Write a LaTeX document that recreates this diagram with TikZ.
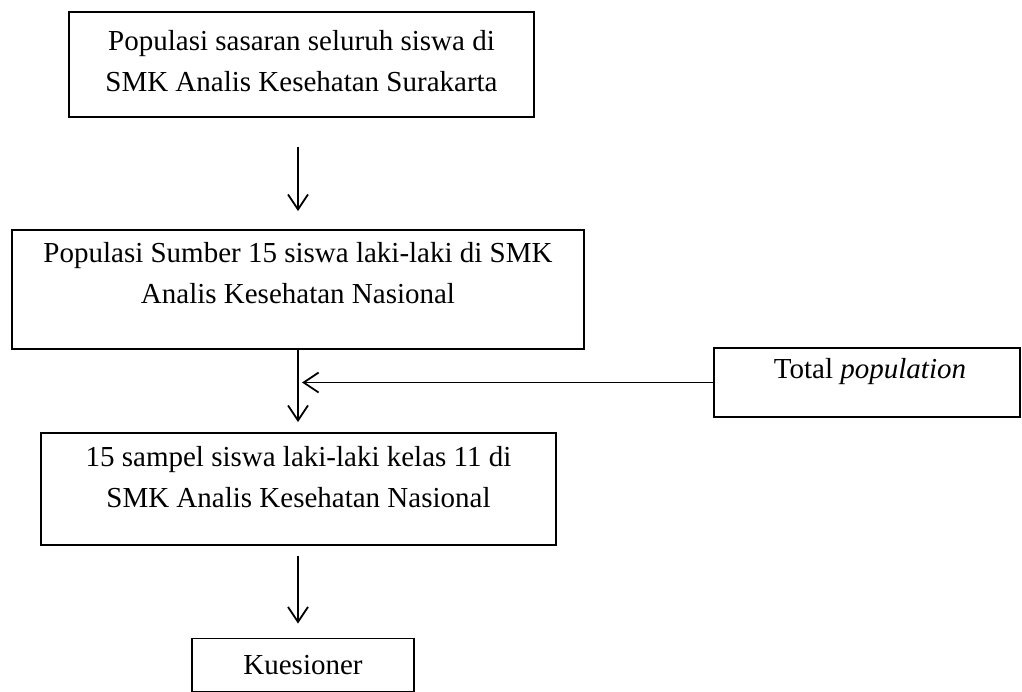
\documentclass[tikz,border=0pt]{standalone}
\usepackage{fontspec}
\setmainfont{Liberation Serif}
\usetikzlibrary{arrows.meta,positioning}

\begin{document}
\begin{tikzpicture}[x=1pt, y=-1pt,
    box/.style={draw, line width=1.8pt, inner sep=0pt},
    boxtext/.style={align=center, inner sep=0pt, font=\fontsize{29}{41}\selectfont},
    flow/.style={line width=1.8pt, -{Straight Barb[length=15pt, width=20pt, line width=1.8pt]}}]

  \useasboundingbox (0, 0) rectangle (1022, 692);

  \node[box, minimum width=465pt, minimum height=105pt] (target) at (301.5, 64.5) {};
  \node[boxtext] (targettext) at (301.5, 61) {Populasi sasaran seluruh siswa di\\SMK Analis Kesehatan Surakarta};

  \node[box, minimum width=572pt, minimum height=119pt] (source) at (298, 289.5) {};
  \node[boxtext, anchor=north] (sourcetext) at (298, 242) {Populasi Sumber 15 siswa laki-laki di SMK\\Analis Kesehatan Nasional};

  \node[box, minimum width=515pt, minimum height=112pt] (sample) at (298.5, 489) {};
  \node[boxtext, anchor=north] (sampletext) at (298.5, 446) {15 sampel siswa laki-laki kelas 11 di\\SMK Analis Kesehatan Nasional};

  \node[box, minimum width=306pt, minimum height=69pt] (total) at (867, 382.5) {};
  \node[boxtext, anchor=north] (totaltext) at (870, 358) {Total \textit{population}};

  \node[box, minimum width=222pt, minimum height=53pt, font=\fontsize{29}{41}\selectfont] (kuesioner) at (303, 665) {Kuesioner};

  \draw[flow, shorten <=29pt, shorten >=18pt] (target.south -| source.south) -- (source.north);
  \draw[flow, shorten >=10pt] (source.south) -- (sample.north -| source.south);
  \draw[flow, shorten >=4pt] (total.west) -- (total.west -| source.south);
  \draw[flow, shorten <=10pt, shorten >=14pt] (sample.south -| source.south) -- (kuesioner.north -| source.south);
\end{tikzpicture}
\end{document}
